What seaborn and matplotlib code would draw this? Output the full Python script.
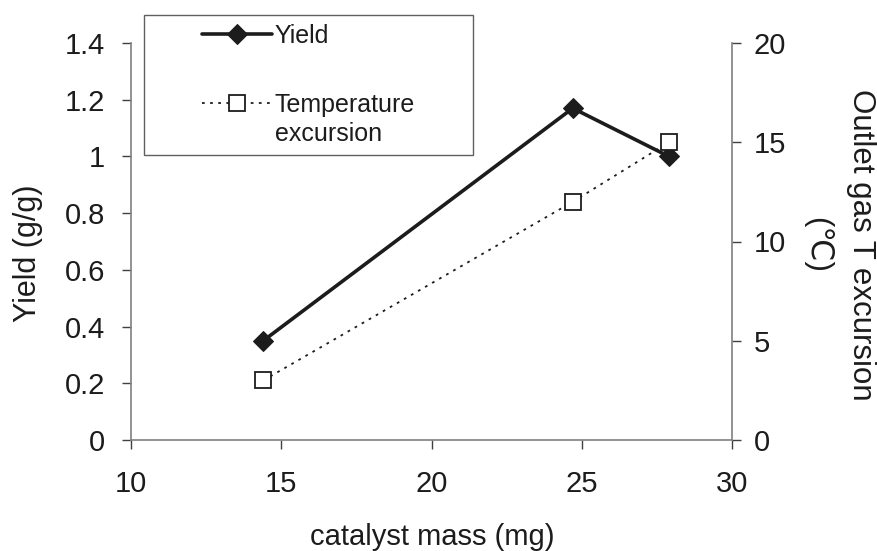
import numpy as np
import pandas as pd
import seaborn as sns
import matplotlib.pyplot as plt
from matplotlib.patches import Rectangle

# Data
catalyst_mass = [14.4, 24.7, 27.9]
yield_gg = [0.35, 1.17, 1.0]
temp_excursion = [3, 12, 15]

df = pd.DataFrame({'mass': catalyst_mass, 'yield': yield_gg, 'temp': temp_excursion})

sns.set_theme(style='white')
plt.rcParams['font.family'] = ['Liberation Sans', 'DejaVu Sans']

W, H = 877, 551
fig = plt.figure(figsize=(W / 100, H / 100), dpi=100)
ax = fig.add_axes([131 / W, 1 - 440 / H, 601 / W, 397 / H])
ax2 = ax.twinx()

ink = '#1c1c1c'

# Yield on left axis
sns.lineplot(data=df, x='mass', y='yield', ax=ax, color=ink, linewidth=2.6,
             marker='D', markersize=10.5, markerfacecolor=ink,
             markeredgecolor=ink, label='Yield', legend=False)

# Temperature excursion on right axis
sns.lineplot(data=df, x='mass', y='temp', ax=ax2, color=ink, linewidth=1.3,
             linestyle=(0, (1.5, 3)), marker='s', markersize=11,
             markerfacecolor='white', markeredgecolor=ink, markeredgewidth=1.3,
             label='Temperature', legend=False)

ax.set_xlim(10, 30)
ax.set_ylim(0, 1.4)
ax2.set_ylim(0, 20)
ax.set_xticks([10, 15, 20, 25, 30])
ax.set_yticks(np.arange(0, 1.41, 0.2))
ax.set_yticklabels(['0', '0.2', '0.4', '0.6', '0.8', '1', '1.2', '1.4'])
ax2.set_yticks([0, 5, 10, 15, 20])

fs = 21
ax.set_xlabel('catalyst mass (mg)', fontsize=fs, color=ink)
ax.set_ylabel('Yield (g/g)', fontsize=fs + 1, color=ink)
ax2.set_ylabel('Outlet gas T excursion\n(℃)', fontsize=22.5, color=ink,
               rotation=-90, linespacing=1.62)
ax.xaxis.set_label_coords(0.502, -0.244)
ax.yaxis.set_label_coords(-0.171, 0.47)
ax2.yaxis.set_label_coords(1.178, 0.492)
ax.xaxis.label.set(va='center', ha='center')
ax.yaxis.label.set(va='center', ha='center', rotation_mode='default')
ax2.yaxis.label.set(va='center', ha='center', rotation_mode='default')

for a in (ax, ax2):
    a.spines['top'].set_visible(False)
    for s in a.spines.values():
        s.set_color('#808080')
        s.set_linewidth(1.2)
    a.tick_params(direction='out', length=6.5, width=1, color='#404040',
                  labelsize=fs, labelcolor=ink)
    a.grid(False)
ax.spines['right'].set_visible(False)
ax2.spines['left'].set_visible(False)
ax2.spines['bottom'].set_visible(False)
ax.tick_params(axis='x', bottom=True, pad=15)
ax.tick_params(axis='y', left=True, pad=12)
ax2.tick_params(axis='y', right=True, pad=9)

# Legend spanning both series, with a frame drawn around it
h1, l1 = ax.get_legend_handles_labels()
h2, l2 = ax2.get_legend_handles_labels()
leg = fig.legend(h1 + h2, l1 + l2, loc='upper left',
                 bbox_to_anchor=(202 / W, 1 - 24 / H), fontsize=18,
                 frameon=False, borderpad=0, labelspacing=1.8,
                 handlelength=2.8, handletextpad=0.1, borderaxespad=0)
for t in leg.get_texts():
    t.set_color(ink)
fig.add_artist(Rectangle((144 / W, 1 - 155 / H), 329 / W, 140 / H,
                         transform=fig.transFigure, fill=False,
                         edgecolor='#606060', linewidth=1.0))

fig.canvas.draw()
bb = leg.get_texts()[1].get_window_extent()
fig.text(bb.x0 / W, ((bb.y0 + bb.y1) / 2 - 29) / H, 'excursion',
         fontsize=18, color=ink, ha='left', va='center')

fig.savefig('out.png', dpi=100)
